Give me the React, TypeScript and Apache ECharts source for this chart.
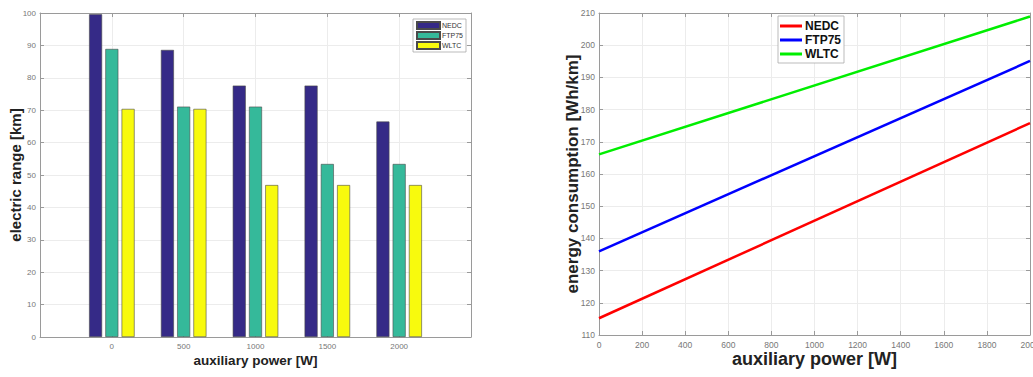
import React, { useEffect, useRef } from "react";
import * as echarts from "echarts";

// Left chart: electric range per auxiliary power
const powerCategories = [0, 500, 1000, 1500, 2000];
const rangeNEDC = [99.6, 88.6, 77.6, 77.6, 66.5];
const rangeFTP75 = [88.9, 71.1, 71.1, 53.4, 53.4];
const rangeWLTC = [70.4, 70.4, 46.9, 46.9, 46.9];

// Right chart: energy consumption vs auxiliary power
const powerLine = [0, 2000];
const consNEDC = [115.2, 175.8];
const consFTP75 = [136.0, 195.1];
const consWLTC = [166.1, 208.9];

const FONT = "Liberation Sans, Arial, Helvetica, sans-serif";
const AXIS_COLOR = "#9a9a9a";
const GRID_COLOR = "#ececec";
const LABEL_COLOR = "#777777";

const pair = (xs: number[], ys: number[]) => xs.map((x, i) => [x, ys[i]]);

export default function App() {
  const leftRef = useRef<HTMLDivElement>(null);
  const rightRef = useRef<HTMLDivElement>(null);

  useEffect(() => {
    const left = echarts.init(leftRef.current!, undefined, { renderer: "svg" });
    const right = echarts.init(rightRef.current!, undefined, { renderer: "svg" });

    const boxAxis = (pos: string, min: number, max: number, interval: number) => ({
      type: "value",
      position: pos,
      min,
      max,
      interval,
      axisLine: { show: true, onZero: false, lineStyle: { color: AXIS_COLOR, width: 1 } },
      axisTick: { show: true, inside: true, length: 4, lineStyle: { color: AXIS_COLOR } },
      axisLabel: { show: false },
      splitLine: { show: false },
    });

    const barSeries = (name: string, vals: number[], color: string) => ({
      name,
      type: "bar",
      xAxisIndex: 0,
      yAxisIndex: 0,
      data: pair(powerCategories, vals),
      barWidth: 13,
      barGap: "25%",
      itemStyle: { color, borderColor: "#4a4a4a", borderWidth: 0.6 },
    });

    left.setOption({
      animation: false,
      textStyle: { fontFamily: FONT },
      grid: { left: 40, right: 49, top: 13, bottom: 40, outerBoundsMode: "none", containLabel: false },
      legend: {
        orient: "vertical",
        left: 413,
        top: 19,
        itemWidth: 23,
        itemHeight: 7,
        itemGap: 1,
        icon: "rect",
        padding: [2, 3, 2, 3],
        borderColor: "#aaaaaa",
        borderWidth: 0.8,
        backgroundColor: "#ffffff",
        textStyle: { fontSize: 7, lineHeight: 8, color: "#333", fontFamily: FONT, padding: [0, 0, 0, -3] },
        data: ["NEDC", "FTP75", "WLTC"],
      },
      xAxis: [
        {
          type: "value",
          position: "bottom",
          min: -500,
          max: 2500,
          interval: 500,
          name: "auxiliary power [W]",
          nameLocation: "middle",
          nameGap: 16,
          nameMoveOverlap: false,
          nameTextStyle: { fontSize: 13.5, fontWeight: "bold", color: "#222", fontFamily: FONT },
          axisLine: { show: true, onZero: false, lineStyle: { color: AXIS_COLOR } },
          axisTick: { show: true, inside: true, length: 4, lineStyle: { color: AXIS_COLOR } },
          axisLabel: {
            fontSize: 8,
            color: LABEL_COLOR,
            margin: 5,
            formatter: (v: number) => (powerCategories.includes(v) ? String(v) : ""),
          },
          splitLine: { show: true, lineStyle: { color: GRID_COLOR } },
        },
        boxAxis("top", -500, 2500, 500),
      ],
      yAxis: [
        {
          type: "value",
          position: "left",
          min: 0,
          max: 100,
          interval: 10,
          name: "electric range [km]",
          nameLocation: "middle",
          nameGap: 17,
          nameMoveOverlap: false,
          nameTextStyle: { fontSize: 15, fontWeight: "bold", color: "#222", fontFamily: FONT },
          axisLine: { show: true, onZero: false, lineStyle: { color: AXIS_COLOR } },
          axisTick: { show: true, inside: true, length: 4, lineStyle: { color: AXIS_COLOR } },
          axisLabel: { fontSize: 8, color: LABEL_COLOR, margin: 4 },
          splitLine: { show: true, lineStyle: { color: GRID_COLOR } },
        },
        boxAxis("right", 0, 100, 10),
      ],
      series: [
        barSeries("NEDC", rangeNEDC, "#352a87"),
        barSeries("FTP75", rangeFTP75, "#35b99a"),
        barSeries("WLTC", rangeWLTC, "#f8fa0d"),
      ],
    });

    const lineSeries = (name: string, vals: number[], color: string) => ({
      name,
      type: "line",
      xAxisIndex: 0,
      yAxisIndex: 0,
      data: pair(powerLine, vals),
      symbol: "none",
      lineStyle: { color, width: 2.5 },
      itemStyle: { color },
    });

    right.setOption({
      animation: false,
      textStyle: { fontFamily: FONT },
      grid: { left: 79, right: 3, top: 13, bottom: 42, outerBoundsMode: "none", containLabel: false },
      legend: {
        orient: "vertical",
        left: 258,
        top: 16,
        itemWidth: 22,
        itemHeight: 3,
        itemGap: 0,
        icon: "rect",
        padding: [3, 3, 2, 2],
        borderColor: "#aaaaaa",
        borderWidth: 0.8,
        backgroundColor: "#ffffff",
        textStyle: { fontSize: 12, lineHeight: 14, fontWeight: "bold", color: "#111", fontFamily: FONT, padding: [0, 0, 0, -2] },
        data: ["NEDC", "FTP75", "WLTC"],
      },
      xAxis: [
        {
          type: "value",
          position: "bottom",
          min: 0,
          max: 2000,
          interval: 200,
          name: "auxiliary power [W]",
          nameLocation: "middle",
          nameGap: 15,
          nameMoveOverlap: false,
          nameTextStyle: { fontSize: 18, fontWeight: "bold", color: "#222", fontFamily: FONT },
          axisLine: { show: true, onZero: false, lineStyle: { color: AXIS_COLOR } },
          axisTick: { show: true, inside: true, length: 4, lineStyle: { color: AXIS_COLOR } },
          axisLabel: {
            fontSize: 8.5,
            color: LABEL_COLOR,
            margin: 5,
            showMaxLabel: true,
            formatter: (v: number) => String(v),
          },
          splitLine: { show: true, lineStyle: { color: GRID_COLOR } },
        },
        boxAxis("top", 0, 2000, 200),
      ],
      yAxis: [
        {
          type: "value",
          position: "left",
          min: 110,
          max: 210,
          interval: 10,
          name: "energy consumption [Wh/km]",
          nameLocation: "middle",
          nameGap: 18,
          nameMoveOverlap: false,
          nameTextStyle: { fontSize: 17, fontWeight: "bold", color: "#222", fontFamily: FONT },
          axisLine: { show: true, onZero: false, lineStyle: { color: AXIS_COLOR } },
          axisTick: { show: true, inside: true, length: 4, lineStyle: { color: AXIS_COLOR } },
          axisLabel: { fontSize: 8.5, color: LABEL_COLOR, margin: 4 },
          splitLine: { show: true, lineStyle: { color: GRID_COLOR } },
        },
        boxAxis("right", 110, 210, 10),
      ],
      series: [
        lineSeries("NEDC", consNEDC, "#ff0000"),
        lineSeries("FTP75", consFTP75, "#0000ff"),
        lineSeries("WLTC", consWLTC, "#00ee00"),
      ],
    });

    return () => {
      left.dispose();
      right.dispose();
    };
  }, []);

  return (
    <div style={{ position: "fixed", left: 0, top: 0, width: 1033, height: 377, background: "#fff", overflow: "hidden" }}>
      <div ref={leftRef} style={{ position: "absolute", left: 0, top: 0, width: 520, height: 377 }} />
      <div ref={rightRef} style={{ position: "absolute", left: 520, top: 0, width: 513, height: 377 }} />
    </div>
  );
}
